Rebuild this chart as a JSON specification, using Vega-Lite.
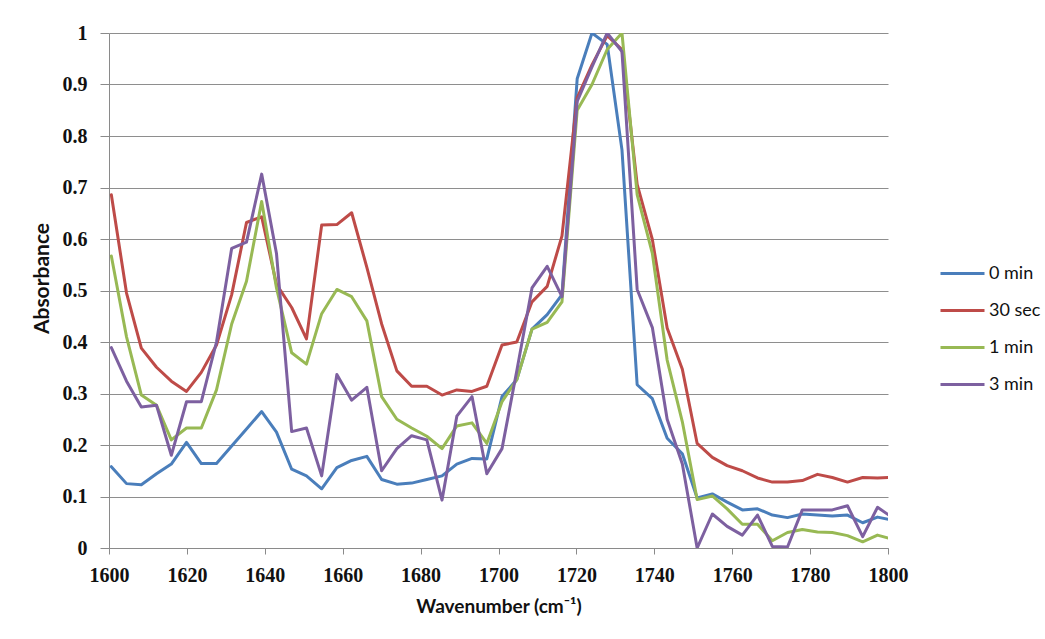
{
  "$schema": "https://vega.github.io/schema/vega-lite/v6.json",
  "width": 779,
  "height": 515,
  "autosize": {"type": "none"},
  "padding": {"left": 109, "top": 33, "right": 157, "bottom": 91},
  "background": "white",
  "config": {
    "view": {"stroke": null},
    "axis": {"domainColor": "#8a8a8a", "tickColor": "#8a8a8a", "gridColor": "#8e8e8e", "labelColor": "#111111", "titleColor": "#111111"}
  },
  "data": {
    "values": [
      {"wn": 1600.6, "0 min": 0.158, "30 sec": 0.686, "1 min": 0.567, "3 min": 0.389},
      {"wn": 1604.5, "0 min": 0.125, "30 sec": 0.495, "1 min": 0.41, "3 min": 0.324},
      {"wn": 1608.3, "0 min": 0.123, "30 sec": 0.388, "1 min": 0.297, "3 min": 0.274},
      {"wn": 1612.2, "0 min": 0.144, "30 sec": 0.351, "1 min": 0.277, "3 min": 0.277},
      {"wn": 1616.0, "0 min": 0.163, "30 sec": 0.324, "1 min": 0.21, "3 min": 0.18},
      {"wn": 1619.9, "0 min": 0.205, "30 sec": 0.304, "1 min": 0.233, "3 min": 0.284},
      {"wn": 1623.7, "0 min": 0.164, "30 sec": 0.341, "1 min": 0.233, "3 min": 0.284},
      {"wn": 1627.6, "0 min": 0.164, "30 sec": 0.394, "1 min": 0.307, "3 min": 0.4},
      {"wn": 1631.5, "0 min": 0.198, "30 sec": 0.492, "1 min": 0.435, "3 min": 0.582},
      {"wn": 1635.3, "0 min": 0.231, "30 sec": 0.632, "1 min": 0.518, "3 min": 0.594},
      {"wn": 1639.2, "0 min": 0.265, "30 sec": 0.643, "1 min": 0.673, "3 min": 0.726},
      {"wn": 1643.0, "0 min": 0.225, "30 sec": 0.512, "1 min": 0.505, "3 min": 0.572},
      {"wn": 1646.9, "0 min": 0.153, "30 sec": 0.467, "1 min": 0.379, "3 min": 0.226},
      {"wn": 1650.7, "0 min": 0.14, "30 sec": 0.406, "1 min": 0.357, "3 min": 0.233},
      {"wn": 1654.6, "0 min": 0.115, "30 sec": 0.627, "1 min": 0.455, "3 min": 0.14},
      {"wn": 1658.5, "0 min": 0.156, "30 sec": 0.628, "1 min": 0.502, "3 min": 0.337},
      {"wn": 1662.3, "0 min": 0.17, "30 sec": 0.651, "1 min": 0.488, "3 min": 0.287},
      {"wn": 1666.2, "0 min": 0.178, "30 sec": 0.545, "1 min": 0.441, "3 min": 0.312},
      {"wn": 1670.0, "0 min": 0.133, "30 sec": 0.435, "1 min": 0.294, "3 min": 0.15},
      {"wn": 1673.9, "0 min": 0.124, "30 sec": 0.344, "1 min": 0.25, "3 min": 0.193},
      {"wn": 1677.7, "0 min": 0.126, "30 sec": 0.314, "1 min": 0.233, "3 min": 0.218},
      {"wn": 1681.6, "0 min": 0.133, "30 sec": 0.314, "1 min": 0.217, "3 min": 0.21},
      {"wn": 1685.5, "0 min": 0.14, "30 sec": 0.297, "1 min": 0.193, "3 min": 0.093},
      {"wn": 1689.3, "0 min": 0.163, "30 sec": 0.307, "1 min": 0.237, "3 min": 0.256},
      {"wn": 1693.2, "0 min": 0.174, "30 sec": 0.304, "1 min": 0.243, "3 min": 0.294},
      {"wn": 1697.0, "0 min": 0.173, "30 sec": 0.314, "1 min": 0.203, "3 min": 0.144},
      {"wn": 1700.9, "0 min": 0.294, "30 sec": 0.394, "1 min": 0.284, "3 min": 0.193},
      {"wn": 1704.7, "0 min": 0.327, "30 sec": 0.4, "1 min": 0.327, "3 min": 0.344},
      {"wn": 1708.6, "0 min": 0.425, "30 sec": 0.478, "1 min": 0.425, "3 min": 0.505},
      {"wn": 1712.5, "0 min": 0.453, "30 sec": 0.508, "1 min": 0.438, "3 min": 0.547},
      {"wn": 1716.3, "0 min": 0.492, "30 sec": 0.606, "1 min": 0.478, "3 min": 0.488},
      {"wn": 1720.2, "0 min": 0.911, "30 sec": 0.874, "1 min": 0.85, "3 min": 0.867},
      {"wn": 1724.0, "0 min": 1.0, "30 sec": 0.938, "1 min": 0.9, "3 min": 0.934},
      {"wn": 1727.9, "0 min": 0.978, "30 sec": 0.995, "1 min": 0.968, "3 min": 1.0},
      {"wn": 1731.7, "0 min": 0.773, "30 sec": 0.968, "1 min": 1.0, "3 min": 0.964},
      {"wn": 1735.6, "0 min": 0.317, "30 sec": 0.706, "1 min": 0.686, "3 min": 0.502},
      {"wn": 1739.5, "0 min": 0.29, "30 sec": 0.599, "1 min": 0.572, "3 min": 0.428},
      {"wn": 1743.3, "0 min": 0.213, "30 sec": 0.427, "1 min": 0.365, "3 min": 0.25},
      {"wn": 1747.2, "0 min": 0.183, "30 sec": 0.347, "1 min": 0.245, "3 min": 0.163},
      {"wn": 1751.0, "0 min": 0.097, "30 sec": 0.203, "1 min": 0.094, "3 min": 0.0},
      {"wn": 1754.9, "0 min": 0.105, "30 sec": 0.176, "1 min": 0.101, "3 min": 0.066},
      {"wn": 1758.7, "0 min": 0.089, "30 sec": 0.16, "1 min": 0.076, "3 min": 0.042},
      {"wn": 1762.6, "0 min": 0.074, "30 sec": 0.15, "1 min": 0.046, "3 min": 0.025},
      {"wn": 1766.5, "0 min": 0.076, "30 sec": 0.136, "1 min": 0.046, "3 min": 0.064},
      {"wn": 1770.3, "0 min": 0.064, "30 sec": 0.128, "1 min": 0.014, "3 min": 0.003},
      {"wn": 1774.2, "0 min": 0.059, "30 sec": 0.128, "1 min": 0.03, "3 min": 0.002},
      {"wn": 1778.0, "0 min": 0.066, "30 sec": 0.131, "1 min": 0.036, "3 min": 0.074},
      {"wn": 1781.9, "0 min": 0.064, "30 sec": 0.143, "1 min": 0.031, "3 min": 0.074},
      {"wn": 1785.7, "0 min": 0.062, "30 sec": 0.137, "1 min": 0.03, "3 min": 0.074},
      {"wn": 1789.6, "0 min": 0.064, "30 sec": 0.128, "1 min": 0.024, "3 min": 0.082},
      {"wn": 1793.5, "0 min": 0.049, "30 sec": 0.137, "1 min": 0.012, "3 min": 0.022},
      {"wn": 1797.3, "0 min": 0.06, "30 sec": 0.136, "1 min": 0.025, "3 min": 0.079},
      {"wn": 1801.2, "0 min": 0.054, "30 sec": 0.137, "1 min": 0.017, "3 min": 0.059}
    ]
  },
  "transform": [
    {"fold": ["0 min", "30 sec", "1 min", "3 min"], "as": ["series", "absorbance"]}
  ],
  "mark": {"type": "line", "strokeWidth": 3, "clip": true, "strokeJoin": "round", "strokeCap": "round"},
  "encoding": {
    "x": {
      "field": "wn", "type": "quantitative",
      "scale": {"domain": [1600, 1800], "nice": false, "zero": false},
      "axis": {
        "values": [1600, 1620, 1640, 1660, 1680, 1700, 1720, 1740, 1760, 1780, 1800],
        "format": "d",
        "grid": false, "tickSize": 6, "labelPadding": 11,
        "labelFont": "Liberation Serif", "labelFontSize": 20, "labelFontWeight": "bold", "labelFlush": false,
        "title": "Wavenumber (cm⁻¹)", "titleFont": "Lato", "titleFontSize": 19, "titleFontWeight": "bold", "titlePadding": 12
      }
    },
    "y": {
      "field": "absorbance", "type": "quantitative",
      "scale": {"domain": [0, 1], "nice": false},
      "axis": {
        "values": [0, 0.1, 0.2, 0.3, 0.4, 0.5, 0.6, 0.7, 0.8, 0.9, 1],
        "format": "~g", "grid": true, "tickSize": 9, "labelPadding": 13,
        "labelFont": "Liberation Serif", "labelFontSize": 20, "labelFontWeight": "bold", "labelFlush": false,
        "title": "Absorbance", "titleFont": "Lato", "titleFontSize": 21, "titleFontWeight": "bold", "titlePadding": 10,
        "titleY": 245
      }
    },
    "color": {
      "field": "series", "type": "nominal",
      "scale": {"domain": ["0 min", "30 sec", "1 min", "3 min"], "range": ["#4a7ebb", "#be4b48", "#98b954", "#7d60a0"]},
      "legend": {
        "title": null, "orient": "none", "legendX": 830, "legendY": 228,
        "symbolType": "M-1,0H3", "symbolSize": 484, "symbolStrokeWidth": 3,
        "labelFont": "Lato", "labelFontSize": 18, "labelColor": "#111111", "labelOffset": 25,
        "rowPadding": 15, "padding": 0
      }
    }
  }
}
